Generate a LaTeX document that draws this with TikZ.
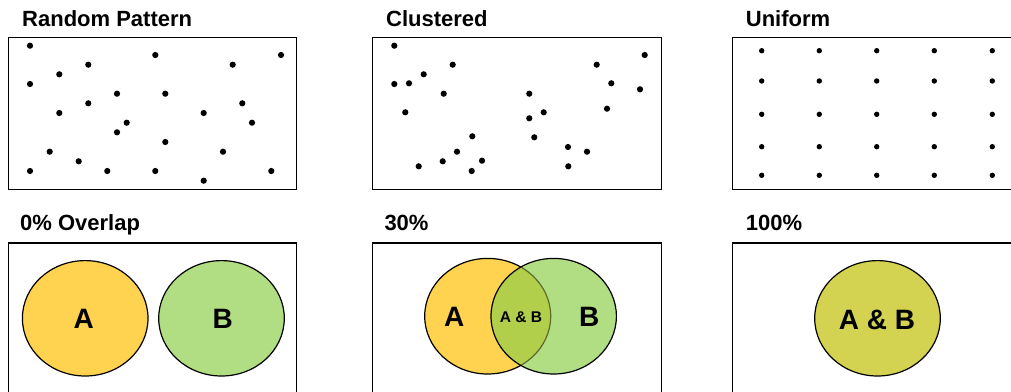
\documentclass[tikz,border=0pt]{standalone}
\usepackage{fontspec}
\setmainfont{Liberation Sans}
\definecolor{cA}{HTML}{FFD34F}
\definecolor{cB}{HTML}{B2DE83}
\definecolor{cAB}{HTML}{B2CF4C}
\definecolor{cFull}{HTML}{D3D251}
\definecolor{cFade}{HTML}{5C6A2E}
\begin{document}
\begin{tikzpicture}[x=1pt,y=-1pt,
  frame/.style={draw=black,line width=1.3pt},
  ttl/.style={anchor=base west,inner sep=0pt,font=\fontsize{22}{24}\selectfont\bfseries},
  dotr/.style={fill=black},
  big/.style={inner sep=0pt,font=\fontsize{28}{30}\selectfont\bfseries},
  sm/.style={inner sep=0pt,font=\fontsize{15.5}{17}\selectfont\bfseries},
  ell/.style={draw=black,line width=1.2pt}]
\useasboundingbox (0,0) rectangle (1011,391);
% titles
\node[ttl] (t1) at (22,26) {Random Pattern};
\node[ttl] (t2) at (386,26) {Clustered};
\node[ttl] (t3) at (745.7,26) {Uniform};
\node[ttl] (t4) at (20,230.5) {0\% Overlap};
\node[ttl] (t5) at (384.3,230.5) {30\%};
\node[ttl] (t6) at (745.7,230.5) {100\%};
% frames
\draw[frame] (8.3,37.7) rectangle (296.7,189.3);
\draw[frame] (372.7,37.7) rectangle (661.7,189.3);
\draw[frame] (1020,37.7) -- (732.7,37.7) -- (732.7,189.3) -- (1020,189.3);
\draw[frame] (8.3,400) -- (8.3,243) -- (296.7,243) -- (296.7,400);
\draw[frame] (372.7,400) -- (372.7,243) -- (661.7,243) -- (661.7,400);
\draw[frame] (732.7,400) -- (732.7,243) -- (1020,243);
% random dots
\foreach \x/\y in {30/45.7,155.3/55,281/55,88.3/64.7,232.7/64.7,59.3/74.3,30/84,117/93.7,165.3/93.7,88.3/103.3,242.3/103.3,59.3/113,203.7/113,126.7/122.7,252/122.7,117/132.3,165.3/142,49.7/151.7,223/151.7,78.7/161.3,30/171,107.3/171,155.3/171,271.3/171,203.7/180.7}
  \fill[dotr] (\x,\y) circle (3.1);
% clustered dots
\foreach \x/\y in {394.3/45.7,644.7/55,452.7/64.7,596.7/64.7,423.7/74.3,394.3/84,409/83.3,611.3/83.3,640/89.3,443.7/93.7,529.3/93.7,405.3/112.3,543.7/112.3,607/108.7,529.3/118.3,472.3/136.3,534.3/137.3,568/147,587/151.7,457/151.7,482/160.7,442.7/161.3,418.7/166.3,568.3/166.3,471.7/171}
  \fill[dotr] (\x,\y) circle (3.1);
% uniform dots
\foreach \x in {761.7,819.3,876.7,934.3,992.3}
  \foreach \y in {50.7,81,114.3,146.7,175.3}
    \fill[dotr] (\x,\y) circle (2.7);
% 0% overlap
\draw[ell,fill=cA] (85.2,318.3) ellipse [x radius=62.8,y radius=57.7];
\draw[ell,fill=cB] (221.5,318.3) ellipse [x radius=62.8,y radius=57.7];
\node[big] (a0) at (83.7,318.7) {A};
\node[big] (b0) at (222.7,318.7) {B};
% 30%
\draw[ell,fill=cA] (487.7,316.2) ellipse [x radius=63,y radius=57.8];
\fill[cB] (553.7,316.2) ellipse [x radius=62.7,y radius=57.8];
\begin{scope}
  \clip (553.7,316.2) ellipse [x radius=62.7,y radius=57.8];
  \fill[cAB] (487.7,316.2) ellipse [x radius=63,y radius=57.8];
  \draw[line width=1.2pt,cFade] (487.7,316.2) ellipse [x radius=63,y radius=57.8];
\end{scope}
\draw[ell] (553.7,316.2) ellipse [x radius=62.7,y radius=57.8];
\node[big] (a3) at (454.3,317.3) {A};
\node[big] (b3) at (589.3,317.3) {B};
\node[sm] (ab3) at (521,317.3) {A \& B};
% 100%
\draw[ell,fill=cFull] (877.5,318.3) ellipse [x radius=62.8,y radius=57.7];
\node[big] (ab6) at (877,319.5) {A \& B};
\end{tikzpicture}
\end{document}
